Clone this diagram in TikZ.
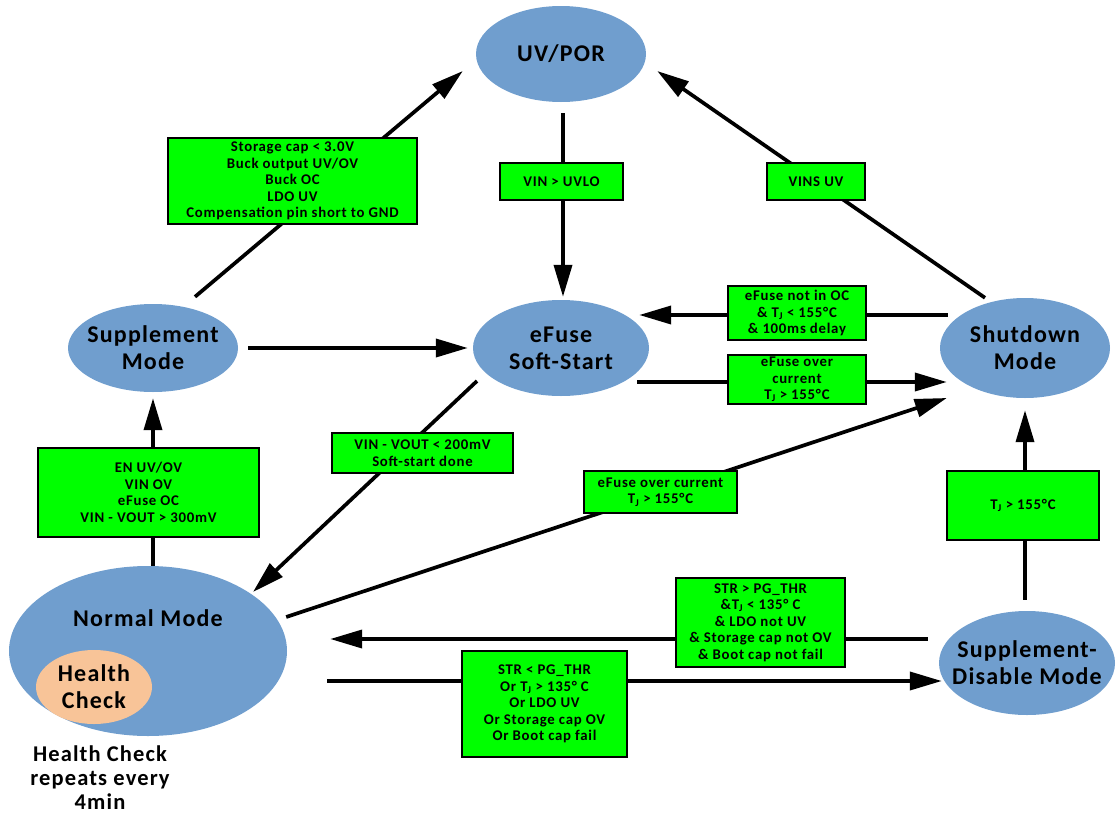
\documentclass[tikz,border=0pt]{standalone}
\usepackage{fontspec}
\setmainfont{Carlito}[LetterSpace=5]
\usetikzlibrary{arrows.meta,shapes.geometric,positioning}
\definecolor{modeblue}{RGB}{112,158,206}
\definecolor{checkpeach}{RGB}{248,196,152}
\definecolor{condgreen}{RGB}{0,255,0}

\begin{document}
\begin{tikzpicture}[x=1pt, y=-1pt,
  mode/.style={ellipse, fill=modeblue, inner sep=0pt},
  modetext/.style={align=center, inner sep=0pt, font=\bfseries\fontsize{24}{27}\selectfont},
  cond/.style={draw=black, line width=1.6pt, fill=condgreen, inner sep=0pt, align=center,
    font=\bfseries\fontsize{14.8}{16.5}\selectfont},
  flow/.style={line width=3.7pt, -{Triangle[length=32pt,width=18pt]}}]
  \useasboundingbox (0,0) rectangle (1117,814);

  % modes
  \node[mode, minimum width=170pt, minimum height=96pt, label={[modetext]center:UV/POR}] (uvpor) at (561,54) {};
  \node[mode, minimum width=176pt, minimum height=96pt, label={[modetext]center:eFuse\\Soft-Start}] (efuse) at (561,348) {};
  \node[mode, minimum width=170pt, minimum height=88pt, label={[modetext]center:Supplement\\Mode}] (supp) at (153,348) {};
  \node[mode, minimum width=170pt, minimum height=100pt, label={[modetext]center:Shutdown\\Mode}] (shut) at (1025,348) {};
  \node[mode, minimum width=278pt, minimum height=170pt, label={[modetext, yshift=33pt]center:Normal Mode}] (normal) at (148,651) {};
  \node[mode, fill=checkpeach, minimum width=116pt, minimum height=74pt, label={[modetext]center:Health\\Check}] (health) at (94,687) {};
  \node[mode, minimum width=176pt, minimum height=104pt, label={[modetext]center:Supplement-\\Disable Mode}] (sdis) at (1027,663) {};
  \node[align=center, font=\bfseries\fontsize{22.5}{24}\selectfont] (hcnote) at (100,778) {Health Check\\repeats every\\4min};

  % transitions
  \draw[flow] ([xshift=42pt,yshift=7pt]supp.north) -- ([xshift=-13pt,yshift=-17pt]uvpor.west);
  \draw[flow, shorten <=11pt, shorten >=3pt] ([xshift=2pt]uvpor.south) -- ([xshift=2pt]efuse.north);
  \draw[flow] ([xshift=-40pt]shut.north) -- ([xshift=11pt,yshift=-17pt]uvpor.east);
  \draw[flow] ([xshift=8pt,yshift=33pt]shut.west) -- ([xshift=-10pt,yshift=33pt]efuse.east);
  \draw[flow] ([xshift=-12pt,yshift=-34pt]efuse.east) -- ([xshift=7pt,yshift=-34pt]shut.west);
  \draw[flow, shorten <=10pt, shorten >=5pt] (supp.east) -- (efuse.west);
  \draw[flow] ([xshift=-84pt,yshift=-33pt]efuse.center) -- ([xshift=105pt,yshift=59pt]normal.center);
  \draw[flow] ([xshift=-1pt,yshift=34pt]normal.east) -- ([xshift=7pt,yshift=-50pt]shut.west);
  \draw[flow, shorten >=6pt] (normal.north -| supp.south) -- (supp.south);
  \draw[flow, shorten <=11pt, shorten >=12pt] (shut.south |- sdis.north) -- (shut.south);
  \draw[flow] ([xshift=-11pt,yshift=24pt]sdis.west) -- ([xshift=43pt,yshift=12pt]normal.east);
  \draw[flow] ([xshift=40pt,yshift=-30pt]normal.east) -- ([xshift=3pt,yshift=-18pt]sdis.west);

  % conditions
  \node[cond, minimum width=249pt, minimum height=86pt] (cstorage) at (292.5,181) {Storage cap < 3.0V\\Buck output UV/OV\\Buck OC\\LDO UV\\Compensation pin short to GND};
  \node[cond, minimum width=123pt, minimum height=37pt] (cuvlo) at (561.5,181.5) {VIN > UVLO};
  \node[cond, minimum width=98pt, minimum height=37pt] (cvins) at (816,181.5) {VINS UV};
  \node[cond, minimum width=138pt, minimum height=54pt] (cnotoc) at (797,313) {eFuse not in OC\\\& T\textsubscript{J} < 155°C\\\& 100ms delay};
  \node[cond, minimum width=138pt, minimum height=49pt] (covercur) at (797,379.5) {eFuse over\\current\\T\textsubscript{J} > 155°C};
  \node[cond, minimum width=181pt, minimum height=40pt] (csoftdone) at (422.5,453) {VIN - VOUT < 200mV\\Soft-start done};
  \node[cond, minimum width=153pt, minimum height=42pt] (coverdiag) at (660.5,492) {eFuse over current\\T\textsubscript{J} > 155°C};
  \node[cond, minimum width=169pt, minimum height=89pt] (cstrhigh) at (760.5,622.5) {STR > PG\_THR\\\&T\textsubscript{J} < 135° C\\\& LDO not UV\\\& Storage cap not OV\\\& Boot cap not fail};
  \node[cond, minimum width=165pt, minimum height=106pt] (cstrlow) at (544.5,704) {STR < PG\_THR\\Or T\textsubscript{J} > 135° C\\Or LDO UV\\Or Storage cap OV\\Or Boot cap fail};
  \node[cond, minimum width=221pt, minimum height=89pt] (cenuv) at (148.5,492.5) {EN UV/OV\\VIN OV\\eFuse OC\\VIN - VOUT > 300mV};
  \node[cond, minimum width=152pt, minimum height=69pt] (ctemp) at (1023,505.5) {T\textsubscript{J} > 155°C};
\end{tikzpicture}
\end{document}
